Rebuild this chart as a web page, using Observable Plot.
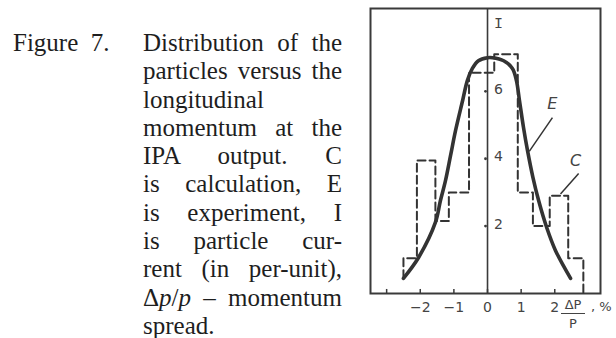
<!DOCTYPE html>
<html>
<head>
<meta charset="utf-8">
<script src="https://cdn.jsdelivr.net/npm/d3@7"></script>
<script src="https://cdn.jsdelivr.net/npm/@observablehq/plot@0.6"></script>
<style>
  html, body { margin: 0; padding: 0; background: #fff; width: 616px; height: 338px; overflow: hidden; }
  .serif { font-family: "Liberation Serif", "DejaVu Serif", serif; font-size: 25px; color: #1e1e1e; line-height: 28.3px; }
  #figno { position: absolute; left: 13px; top: 29px; white-space: nowrap; }
  #caption { position: absolute; left: 143px; top: 29px; width: 199px; }
  #caption div { text-align: justify; text-align-last: justify; white-space: nowrap; }
  #caption div.left { text-align: left; text-align-last: left; }
  #chart { position: absolute; left: 350px; top: 0; }
  .sans { font-family: "DejaVu Sans", sans-serif; color: #444; font-size: 13px; }
  #xname { position: absolute; left: 561px; top: 298px; width: 24px; text-align: center; line-height: 13px; }
  #xname .num { border-bottom: 1.3px solid #444; padding-bottom: 2px; }
  #xname .den { padding-top: 3px; }
  #xunit { position: absolute; left: 591px; top: 299px; }
</style>
</head>
<body>
<div id="figno" class="serif">Figure&nbsp;&nbsp;7.</div>
<div id="caption" class="serif">
  <div>Distribution of the</div>
  <div>particles versus the</div>
  <div class="left">longitudinal</div>
  <div>momentum at the</div>
  <div>IPA output. C</div>
  <div>is calculation, E</div>
  <div>is experiment, I</div>
  <div>is particle cur-</div>
  <div>rent (in per-unit),</div>
  <div>Δ<i>p</i>/<i>p</i> – momentum</div>
  <div class="left">spread.</div>
</div>
<div id="chart"></div>
<div id="xname" class="sans"><div class="num">ΔP</div><div class="den">P</div></div>
<div id="xunit" class="sans">, %</div>
<script>
// Axis ticks: momentum spread Δp/p (%) and particle current I (per-unit)
const xTicks = [-3, -2, -1, 0, 1, 2];
const xTickLabels = ["", "−2", "−1", "0", "1", "2"];
const yTicks = [2, 4, 6];
const yTickLabels = ["2", "4", "6"];

// C — calculation: histogram bin edges and current in each bin
const calcEdges = [-2.5, -2.1, -1.55, -1.15, -0.55, 0.2, 0.9, 1.35, 1.85, 2.4, 2.85];
const calcCurrent = [1.05, 3.95, 2.15, 3.0, 6.55, 7.1, 3.0, 2.0, 2.9, 1.05];
const calcStart = 0.45;

// E — experiment: measured current profile
const expSpread = [-2.50, -2.05, -1.55, -1.40, -1.25, -1.10, -0.95, -0.74, -0.60, -0.45, -0.27, 0.0,
                   0.15, 0.48, 0.74, 0.86, 0.95, 1.07, 1.19, 1.35, 1.52, 1.76, 2.02, 2.47];
const expCurrent = [0.45, 1.07, 2.11, 2.76, 3.35, 4.09, 4.84, 5.73, 6.32, 6.68, 6.91, 7.00,
                    7.00, 6.91, 6.68, 6.32, 5.73, 4.93, 4.24, 3.45, 2.76, 1.96, 1.28, 0.45];

// Curve names with their leader lines
const curveNames = ["E", "C"];
const nameX = [1.93, 2.62];
const nameY = [5.64, 3.95];
const leaderFrom = [[1.93, 5.22], [2.71, 3.56]];
const leaderTo = [[1.24, 4.22], [2.17, 2.95]];

const yMax = 8.46;
const ink = "#333";
const tickFont = "DejaVu Sans, sans-serif";

// staircase: rise at the first edge, one level per bin, drop to zero at the last edge
const calcPoints = [{x: calcEdges[0], y: calcStart}]
  .concat(calcCurrent.map((c, i) => ({x: calcEdges[i], y: c})))
  .concat([{x: calcEdges[calcEdges.length - 1], y: 0}]);
const expPoints = expSpread.map((x, i) => ({x, y: expCurrent[i]}));
const names = curveNames.map((t, i) => ({t, x: nameX[i], y: nameY[i]}));
const leaders = curveNames.map((t, i) => ({x1: leaderFrom[i][0], y1: leaderFrom[i][1], x2: leaderTo[i][0], y2: leaderTo[i][1]}));

const chart = Plot.plot({
  width: 266,
  height: 338,
  marginLeft: 20,
  marginRight: 16,
  marginTop: 8,
  marginBottom: 45,
  x: {domain: [-3.48, 3.36], axis: null},
  y: {domain: [0, yMax], axis: null},
  style: {background: "transparent", color: ink, overflow: "visible"},
  marks: [
    Plot.frame({stroke: "#3a3a3a", strokeWidth: 2}),
    Plot.ruleX([0], {stroke: "#3a3a3a", strokeWidth: 1.6}),
    Plot.ruleX(xTicks, {x: d => d, y1: 0, y2: 0.12, stroke: "#3a3a3a", strokeWidth: 1.5}),
    Plot.text(xTicks, {x: d => d, y: 0, text: (d, i) => xTickLabels[i], dy: 14,
      fontFamily: tickFont, fontSize: 14, fill: "#444"}),
    Plot.dot(yTicks, {x: 0, y: d => d, r: 1.4, dx: -2, fill: "#3a3a3a", stroke: "none"}),
    Plot.text(yTicks, {x: 0, y: d => d, text: (d, i) => yTickLabels[i], dx: 11, dy: -2,
      fontFamily: tickFont, fontSize: 14, fill: "#444"}),
    Plot.text(["I"], {x: 0, y: yMax, text: d => d, dx: 11, dy: 15,
      fontFamily: "Liberation Mono, DejaVu Sans Mono, monospace", fontSize: 15, fill: "#444"}),
    Plot.line(calcPoints, {x: "x", y: "y", curve: "step-after", stroke: ink,
      strokeWidth: 2, strokeDasharray: "8,4"}),
    Plot.line(expPoints, {x: "x", y: "y", curve: "catmull-rom", stroke: ink,
      strokeWidth: 3.6, strokeLinecap: "round"}),
    Plot.link(leaders, {x1: "x1", y1: "y1", x2: "x2", y2: "y2", stroke: ink, strokeWidth: 1.5}),
    Plot.text(names, {x: "x", y: "y", text: "t", fontFamily: "DejaVu Sans, sans-serif",
      fontSize: 16, fontStyle: "italic", fill: "#444"})
  ]
});
document.getElementById("chart").appendChild(chart);
</script>
</body>
</html>
